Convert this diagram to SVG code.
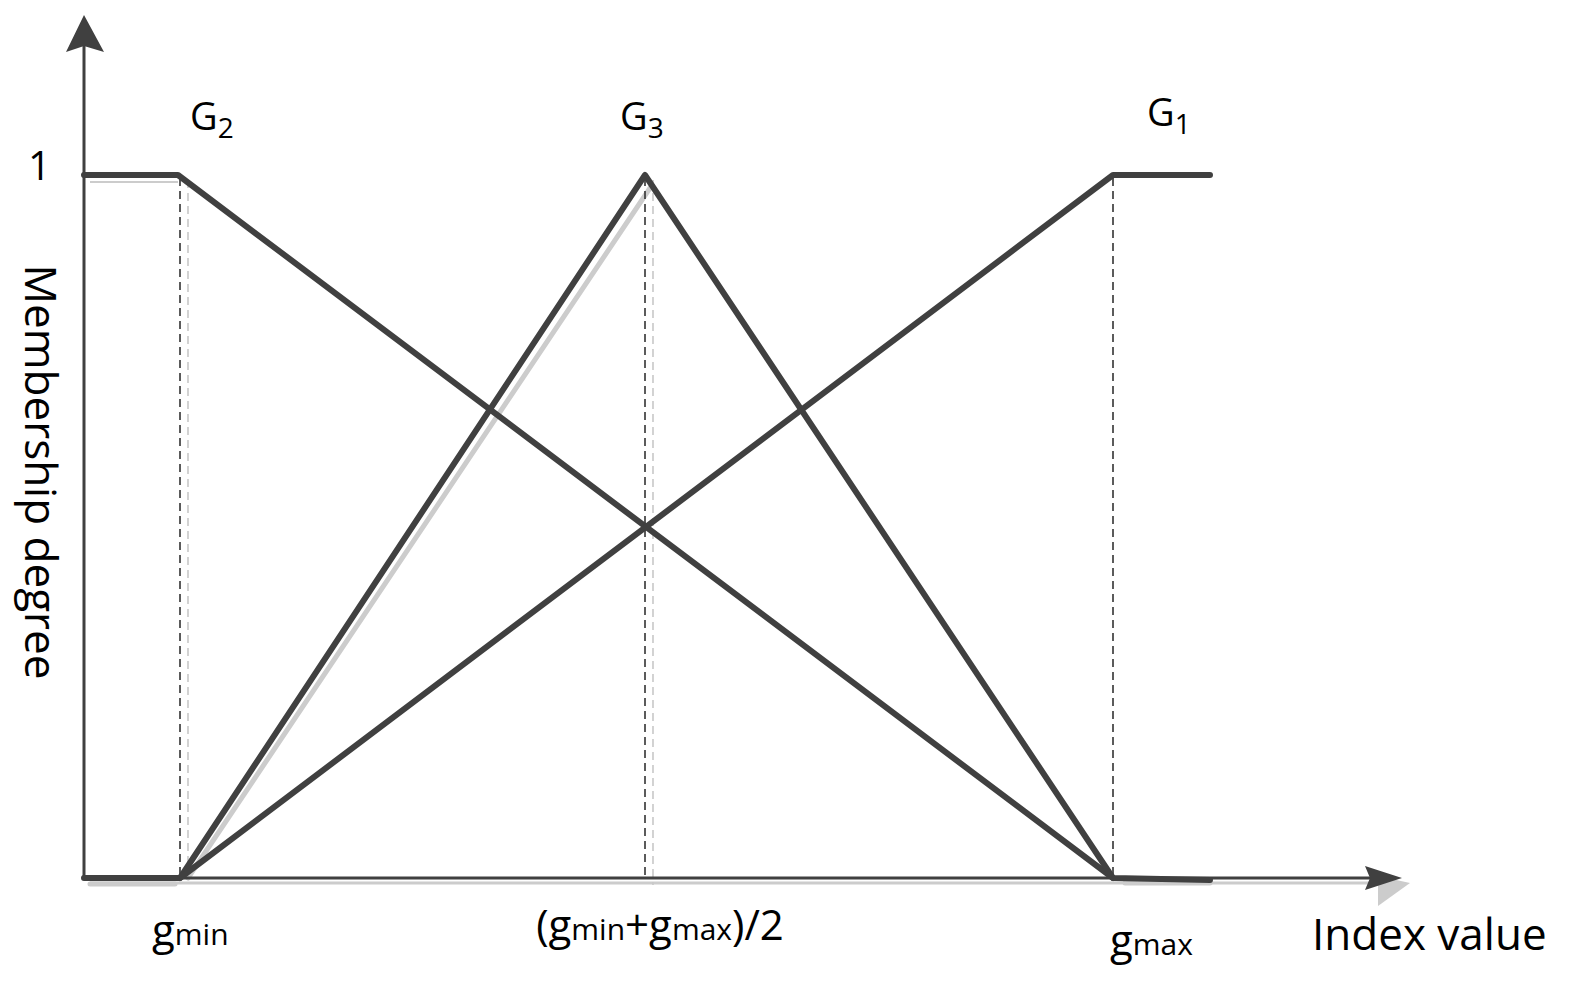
<svg xmlns="http://www.w3.org/2000/svg" width="1582" height="986" viewBox="0 0 1582 986">
<style>
.c{fill:none;stroke:#404040;stroke-width:6;stroke-linejoin:round;stroke-linecap:round}
.ax{fill:none;stroke:#404040;stroke-width:3}
.sh{fill:none;stroke:#cccccc;stroke-width:5;stroke-linecap:round}
.d{fill:none;stroke:#333;stroke-width:1.6;stroke-dasharray:8,5}
.dg{fill:none;stroke:#c8c8c8;stroke-width:1.6;stroke-dasharray:8,5}
text{font-family:"Open Sans","Liberation Sans",sans-serif;fill:#000}
</style>
<rect width="1582" height="986" fill="#fff"/>
<g id="shadows">
<line class="sh" x1="90" y1="884" x2="175" y2="884"/>
<line class="sh" x1="1125" y1="883" x2="1210" y2="883"/>
<line class="sh" x1="188" y1="878" x2="652" y2="185"/>
<line class="ax" style="stroke:#cccccc" x1="90" y1="883" x2="1385" y2="883"/>
<polygon points="1378,876 1410,883 1378,906" fill="#cccccc"/>
<line class="dg" x1="188" y1="180" x2="188" y2="878"/>
<line class="dg" x1="653" y1="180" x2="653" y2="885"/>
<line class="ax" style="stroke:#cccccc;stroke-width:2" x1="90" y1="182" x2="178" y2="182"/>
</g>
<g id="axes">
<line class="ax" x1="84" y1="878" x2="84" y2="45"/>
<polygon points="84,15 104,52 84,46 66,52" fill="#404040"/>
<line class="ax" x1="84" y1="878" x2="1370" y2="878"/>
<polygon points="1402,878 1365,890 1370,878 1365,866" fill="#404040"/>
</g>
<g id="connectors">
<line class="d" x1="180" y1="178" x2="180" y2="878"/>
<line class="d" x1="645" y1="178" x2="645" y2="878"/>
<line class="d" x1="1113" y1="178" x2="1113" y2="878"/>
<polyline id="G2" class="c" points="84,175 178,175 1113,878"/>
<polyline id="G3" class="c" points="84,878 180,878 645,175 1113,878 1210,880"/>
<polyline id="G1" class="c" points="180,878 1113,175 1210,175"/>
</g>
<g id="labels">
<text x="28" y="180" font-size="40">1</text>
<text x="190" y="130" font-size="38">G<tspan font-size="28" dy="8">2</tspan></text>
<text x="620" y="130" font-size="38">G<tspan font-size="28" dy="8">3</tspan></text>
<text x="1147" y="126" font-size="38">G<tspan font-size="28" dy="8">1</tspan></text>
<text transform="translate(25,472) rotate(90)" font-size="44" text-anchor="middle">Membership degree</text>
<text x="152" y="945" font-size="42">g<tspan font-size="30">min</tspan></text>
<text x="660" y="940" font-size="42" text-anchor="middle">(g<tspan font-size="30">min</tspan>+g<tspan font-size="30">max</tspan>)/2</text>
<text x="1110" y="955" font-size="42">g<tspan font-size="30">max</tspan></text>
<text x="1312" y="950" font-size="44">Index value</text>
</g>
</svg>
